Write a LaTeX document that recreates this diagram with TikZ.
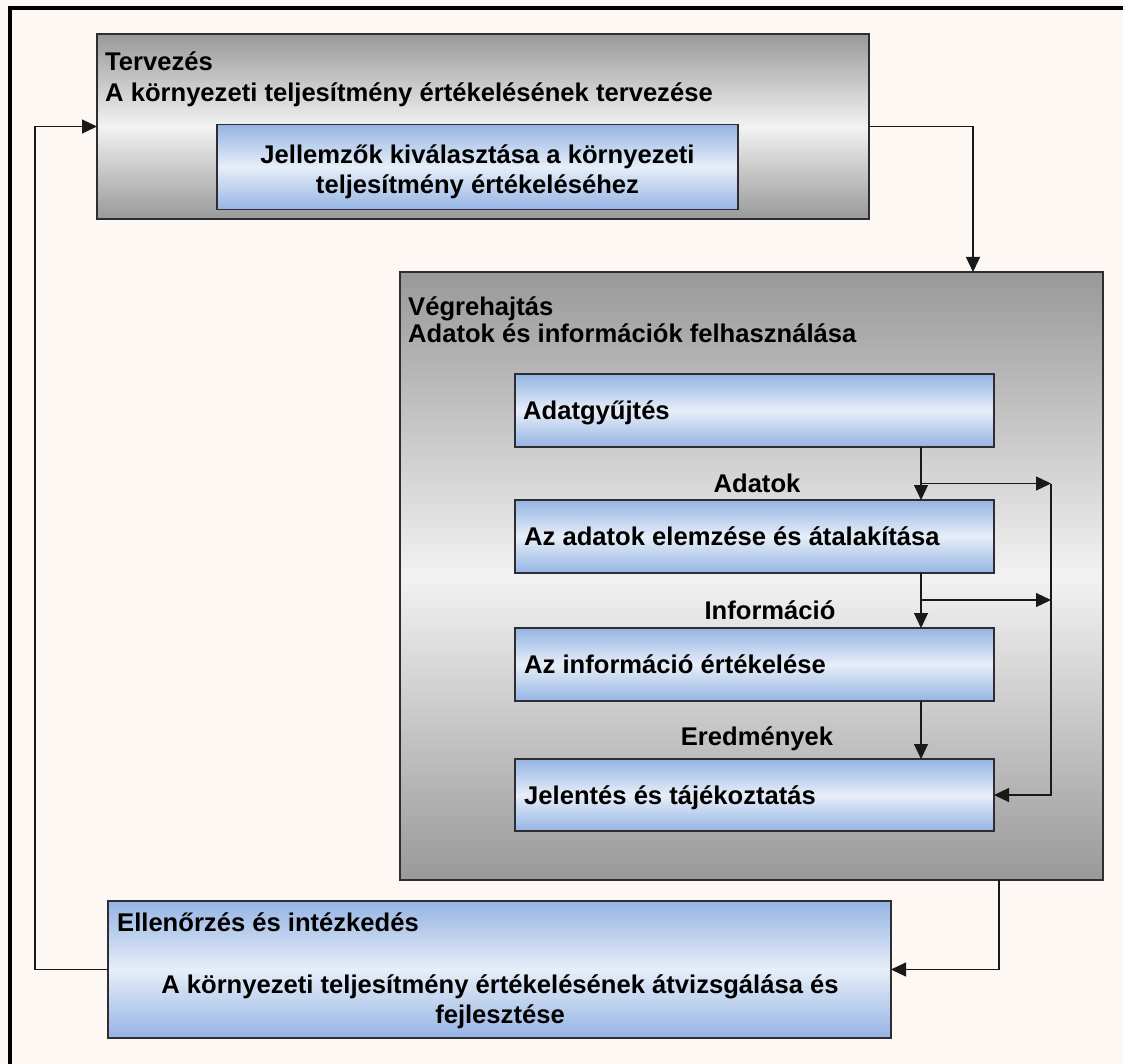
\documentclass[tikz,border=0pt]{standalone}
\usepackage{fontspec}
\setmainfont{Liberation Sans}
\usetikzlibrary{arrows.meta}
\definecolor{paper}{RGB}{253,248,243}
\definecolor{graydark}{RGB}{153,153,153}
\definecolor{graylight}{RGB}{242,242,242}
\definecolor{bluedark}{RGB}{149,180,228}
\definecolor{bluelight}{RGB}{231,238,248}
\definecolor{edge}{RGB}{45,45,50}
\definecolor{wire}{RGB}{25,25,25}
\begin{document}
\begin{tikzpicture}[x=1pt,y=-1pt,
  boxbase/.style={draw=edge, line width=1.3pt, inner sep=0pt, outer sep=0pt},
  graybox/.style={boxbase, top color=graydark, bottom color=graydark, middle color=graylight},
  bluebox/.style={boxbase, top color=bluedark, bottom color=bluedark, middle color=bluelight},
  txt/.style={inner sep=0pt, font=\bfseries\fontsize{25.6}{30}\selectfont},
  conn/.style={draw=wire, line width=1.2pt, -{Triangle[length=15pt,width=14pt]}}
]
% page and frame
\useasboundingbox[fill=paper] (0,0) rectangle (1123,1064);
\draw[line width=4pt, black] (9.5,1064) -- (9.5,8) -- (1123,8);

% planning stage
\node[graybox, minimum width=772pt, minimum height=185pt] (T) at (483,126.5) {};
\node[txt, anchor=base west] (Tt1) at (105,71) {Tervezés};
\node[txt, anchor=base west] (Tt2) at (105,102) {A környezeti teljesítmény értékelésének tervezése};
\node[bluebox, minimum width=521pt, minimum height=85pt] (J) at (477.5,167) {};
\node[txt, align=center, anchor=base] (Jt) at (477.5,194) {Jellemzők kiválasztása a környezeti\\teljesítmény értékeléséhez};

% execution stage
\node[graybox, minimum width=703pt, minimum height=608pt] (V) at (751.5,576) {};
\node[txt, anchor=base west] (Vt1) at (408,315) {Végrehajtás};
\node[txt, anchor=base west] (Vt2) at (408,342) {Adatok és információk felhasználása};

\node[bluebox, minimum width=479pt, minimum height=73pt] (A1) at (754.5,410.5) {};
\node[bluebox, minimum width=479pt, minimum height=73pt] (A2) at (754.5,536.5) {};
\node[bluebox, minimum width=479pt, minimum height=73pt] (A3) at (754.5,664.5) {};
\node[bluebox, minimum width=479pt, minimum height=72pt] (A4) at (754.5,795) {};
\node[txt, anchor=base west] (A1t) at (523,419) {Adatgyűjtés};
\node[txt, anchor=base west] (A2t) at (524,545) {Az adatok elemzése és átalakítása};
\node[txt, anchor=base west] (A3t) at (524,673) {Az információ értékelése};
\node[txt, anchor=base west] (A4t) at (524,804) {Jelentés és tájékoztatás};

\node[txt, anchor=base] (L1) at (757,492) {Adatok};
\node[txt, anchor=base] (L2) at (770,619) {Információ};
\node[txt, anchor=base] (L3) at (757,745) {Eredmények};

% checking stage
\node[bluebox, minimum width=783pt, minimum height=137pt] (E) at (499.5,969.5) {};
\node[txt, anchor=base west] (Et1) at (117,931) {Ellenőrzés és intézkedés};
\node[txt, align=center, anchor=base] (Et2) at (500,1023) {A környezeti teljesítmény értékelésének átvizsgálása és\\fejlesztése};

% routing points
\coordinate (vin) at (973,272);
\coordinate (vout) at (999,880);
\coordinate (lx) at (35,550);
\coordinate (mx) at (921,0);
\coordinate (b1) at (921,483.5);
\coordinate (b2) at (921,600);
\coordinate (r1) at (1051,483.5);
\coordinate (r2) at (1051,600);

% connectors between stages
\draw[conn] (T.east) -| (vin);
\draw[conn] (vout) |- (E.east);
\draw[conn] (E.west) -| (lx) |- (T.west);

% connectors inside the execution stage
\draw[conn] (A1.south -| mx) -- (A2.north -| mx);
\draw[conn] (A2.south -| mx) -- (A3.north -| mx);
\draw[conn] (A3.south -| mx) -- (A4.north -| mx);
\draw[conn] (b1) -- (r1);
\draw[conn] (b2) -- (r2);
\draw[conn] (r1) |- (A4.east);
\end{tikzpicture}
\end{document}
